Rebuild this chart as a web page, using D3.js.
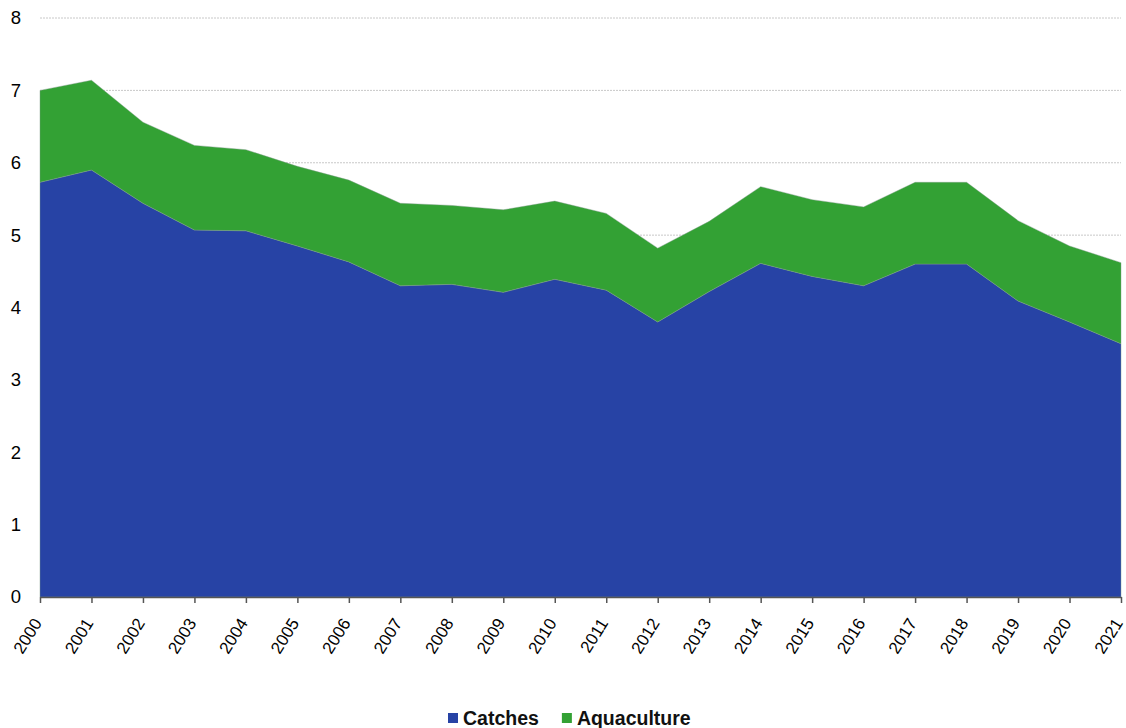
<!DOCTYPE html>
<html>
<head>
<meta charset="utf-8">
<script src="https://cdn.jsdelivr.net/npm/d3@7"></script>
<style>
  body { margin: 0; background: #fff; }
  svg { font-family: "Liberation Sans", Arial, sans-serif; }
</style>
</head>
<body>
<svg width="1126" height="728"></svg>
<script>
const years = [2000, 2001, 2002, 2003, 2004, 2005, 2006, 2007, 2008, 2009, 2010,
               2011, 2012, 2013, 2014, 2015, 2016, 2017, 2018, 2019, 2020, 2021];
const catches = [5.73, 5.90, 5.44, 5.07, 5.06, 4.85, 4.63, 4.30, 4.32, 4.21, 4.39,
                 4.24, 3.80, 4.22, 4.61, 4.43, 4.30, 4.60, 4.60, 4.09, 3.80, 3.50];
const totals = [7.00, 7.14, 6.56, 6.24, 6.18, 5.95, 5.76, 5.44, 5.41, 5.35, 5.47,
                5.30, 4.82, 5.19, 5.67, 5.49, 5.39, 5.73, 5.73, 5.20, 4.85, 4.62];
const aquaculture = totals.map((t, i) => +(t - catches[i]).toFixed(2));
const yTicks = [0, 1, 2, 3, 4, 5, 6, 7, 8];

const series = [
  { key: "catches", label: "Catches", color: "#2743a5" },
  { key: "aquaculture", label: "Aquaculture", color: "#33a134" }
];

const rows = years.map((y, i) => ({ year: y, catches: catches[i], aquaculture: aquaculture[i] }));

const svg = d3.select("svg");
const margin = { left: 40, right: 5, top: 18, bottom: 131 };
const width = 1126, height = 728;

const x = d3.scaleLinear().domain([2000, 2021]).range([margin.left, width - margin.right]);
const y = d3.scaleLinear().domain([0, 8]).range([height - margin.bottom, margin.top]);

// gridlines
svg.append("g")
  .selectAll("line")
  .data(yTicks.filter(d => d > 0))
  .enter().append("line")
  .attr("x1", margin.left)
  .attr("x2", width - margin.right)
  .attr("y1", d => y(d))
  .attr("y2", d => y(d))
  .attr("stroke", "#c8c8c8")
  .attr("stroke-width", 1)
  .attr("stroke-dasharray", "2,1");

const stack = d3.stack().keys(series.map(s => s.key));
const layers = stack(rows);

const area = d3.area()
  .x(d => x(d.data.year))
  .y0(d => y(d[0]))
  .y1(d => y(d[1]));

svg.append("g")
  .selectAll("path")
  .data(layers)
  .enter().append("path")
  .attr("d", area)
  .attr("fill", (d, i) => series[i].color)
  .attr("stroke", "#7f9a8a")
  .attr("stroke-width", 0.6)
  .attr("stroke-opacity", 0.7);

// y labels
svg.append("g")
  .selectAll("text")
  .data(yTicks)
  .enter().append("text")
  .attr("x", 21)
  .attr("y", d => y(d))
  .attr("dy", "0.35em")
  .attr("text-anchor", "end")
  .attr("font-size", 18.5)
  .attr("fill", "#000")
  .text(d => d);

// x axis
const xAxis = d3.axisBottom(x)
  .tickValues(years)
  .tickFormat(d3.format("d"))
  .tickSize(6)
  .tickSizeOuter(0);

const gx = svg.append("g")
  .attr("transform", `translate(0,${y(0)})`)
  .call(xAxis);
gx.select(".domain").attr("stroke", "#555").attr("stroke-width", 1.5);
gx.selectAll(".tick line").attr("stroke", "#555").attr("stroke-width", 1.5);
gx.selectAll(".tick text")
  .attr("font-size", 17)
  .attr("font-family", "Liberation Sans, Arial, sans-serif")
  .attr("fill", "#000")
  .attr("text-anchor", "end")
  .attr("dy", null)
  .attr("y", 0)
  .attr("transform", "translate(2,26) rotate(-58)");

// legend
const legend = svg.append("g").attr("transform", "translate(448,718)");
let lx = 0;
series.forEach(s => {
  const g = legend.append("g").attr("transform", `translate(${lx},0)`);
  g.append("rect").attr("x", 0).attr("y", -5).attr("width", 10).attr("height", 10).attr("fill", s.color);
  const t = g.append("text")
    .attr("x", 15)
    .attr("y", 0)
    .attr("dy", "0.35em")
    .attr("font-size", 19.5)
    .attr("font-weight", "bold")
    .attr("fill", "#111")
    .text(s.label);
  lx += 15 + t.node().getComputedTextLength() + 23;
});
</script>
</body>
</html>
